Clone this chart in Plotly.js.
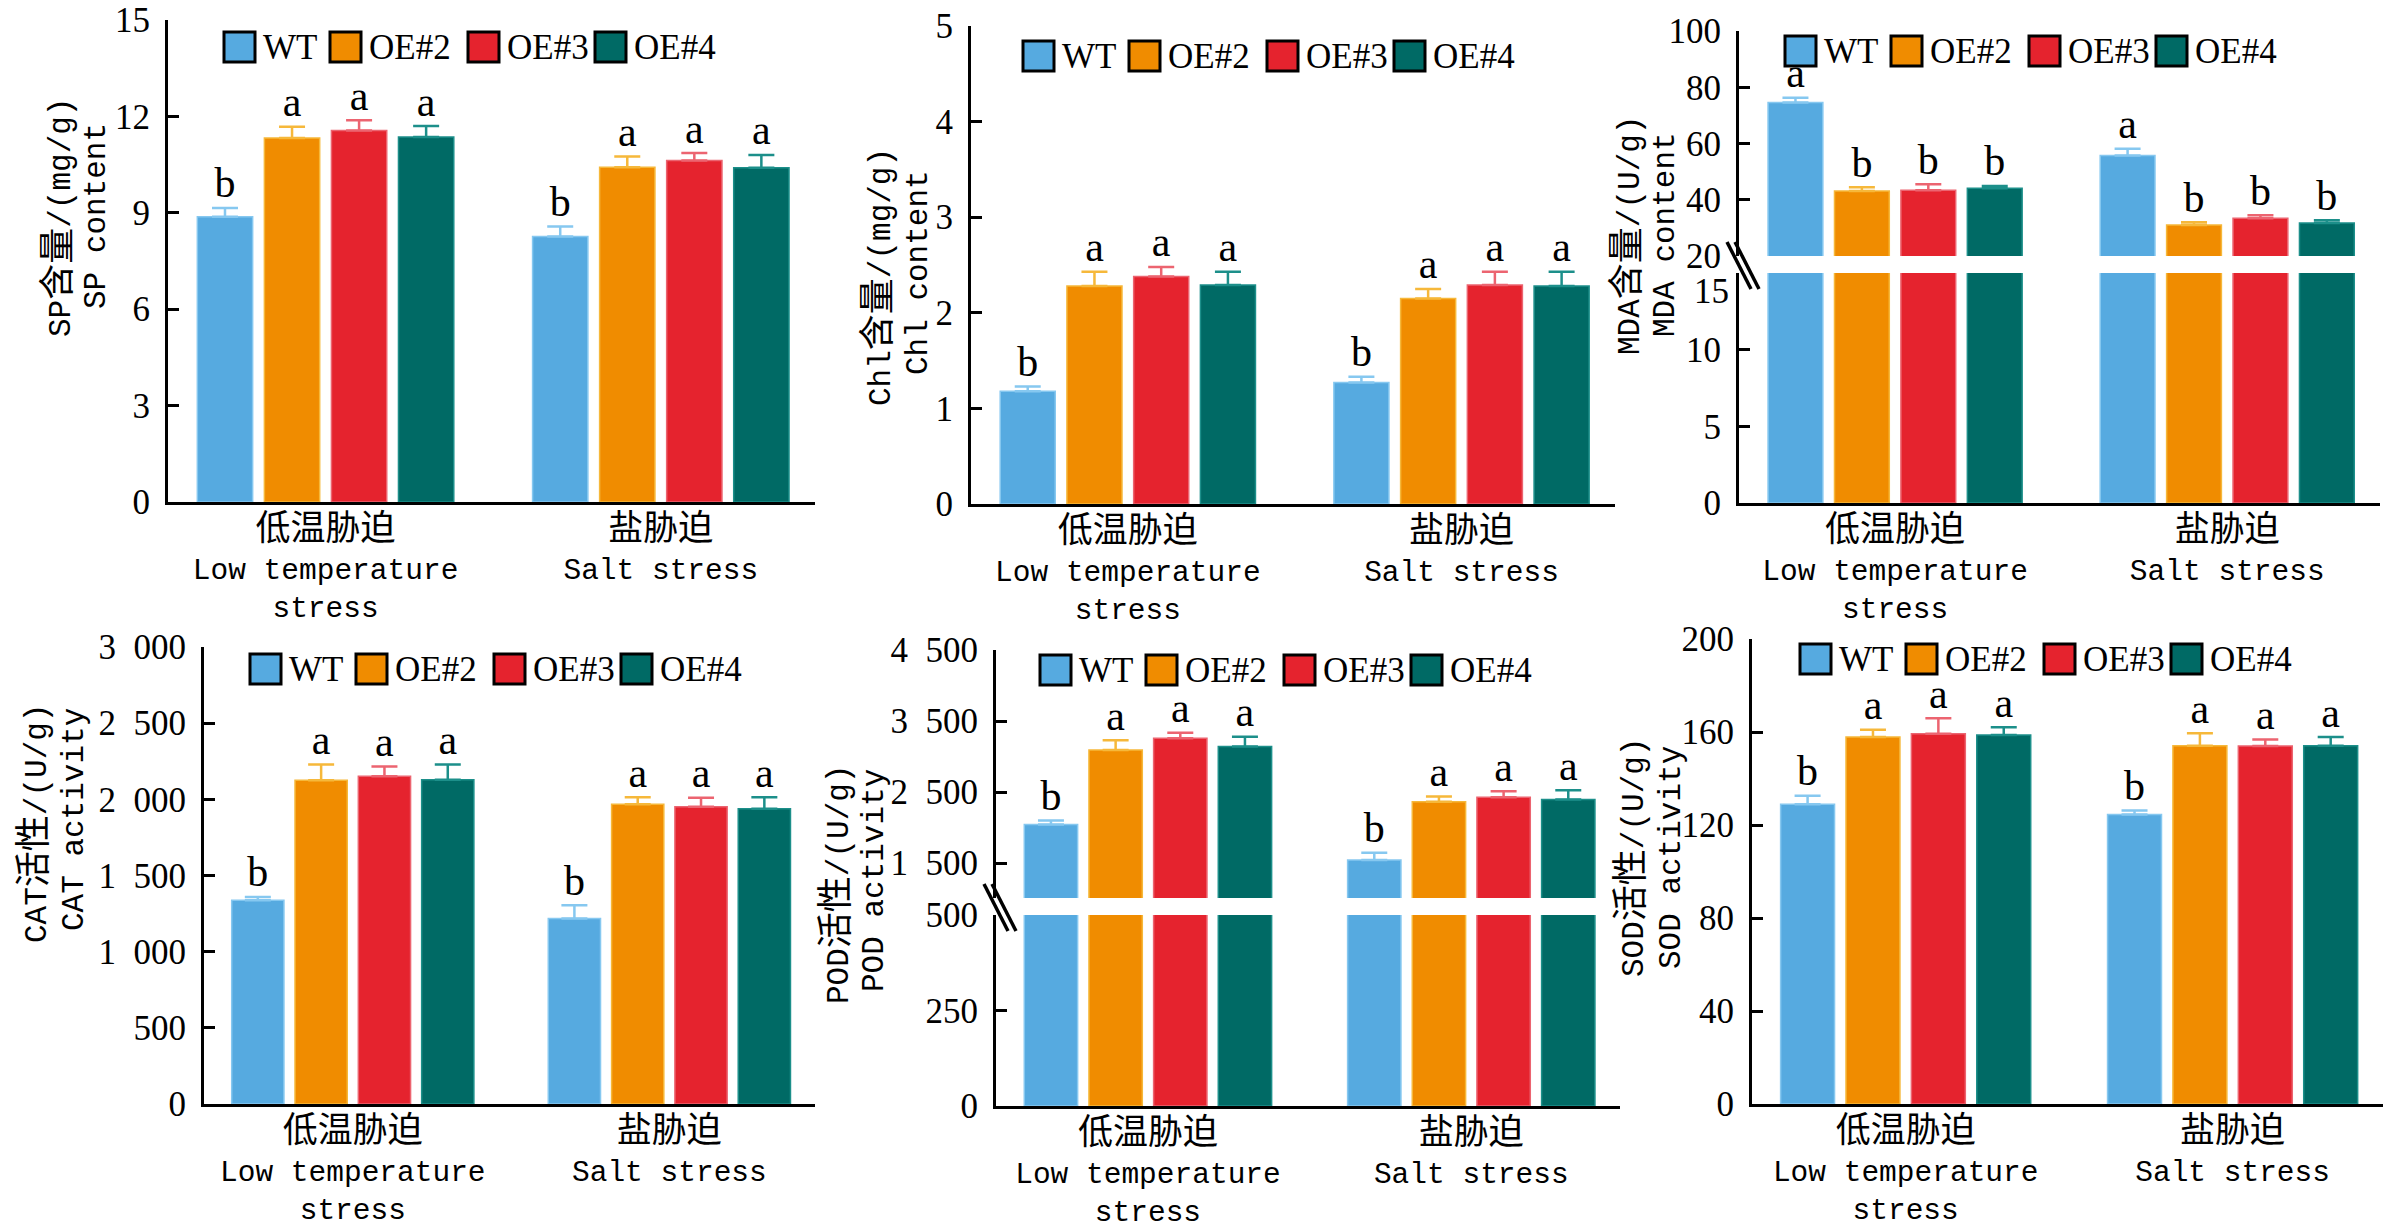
<!DOCTYPE html>
<html>
<head>
<meta charset="utf-8">
<script src="https://cdn.plot.ly/plotly-3.0.1.min.js"></script>
<style>body{margin:0;background:#fff}</style>
</head>
<body>
<div id="chart" style="width:2401px;height:1229px"></div>
<script>
const seriesNames = ["WT", "OE#2", "OE#3", "OE#4"];
const groupsCn = ["低温胁迫", "盐胁迫"];
const groupsEn = ["Low temperature<br>stress", "Salt stress"];

// rows: WT, OE#2, OE#3, OE#4 ; columns: low temperature, salt
const spMean = [[8.88, 8.26], [11.33, 10.42], [11.56, 10.63], [11.36, 10.40]];
const spErr = [[0.27, 0.31], [0.35, 0.33], [0.32, 0.23], [0.34, 0.40]];
const spSig = [["b", "b"], ["a", "a"], ["a", "a"], ["a", "a"]];

const chlMean = [[1.18, 1.27], [2.28, 2.15], [2.38, 2.29], [2.29, 2.28]];
const chlErr = [[0.05, 0.06], [0.15, 0.10], [0.10, 0.14], [0.14, 0.15]];
const chlSig = [["b", "b"], ["a", "a"], ["a", "a"], ["a", "a"]];

const mdaMean = [[74.6, 55.7], [43.1, 31.0], [43.4, 33.4], [44.1, 31.7]];
const mdaErr = [[1.7, 2.4], [1.3, 1.0], [2.1, 1.1], [0.8, 1.0]];
const mdaSig = [["a", "a"], ["b", "b"], ["b", "b"], ["b", "b"]];

const catMean = [[1338, 1218], [2126, 1967], [2151, 1951], [2128, 1938]];
const catErr = [[21, 87], [102, 46], [64, 59], [100, 75]];
const catSig = [["b", "b"], ["a", "a"], ["a", "a"], ["a", "a"]];

const podMean = [[2044, 1544], [3093, 2363], [3258, 2429], [3143, 2396]];
const podErr = [[55, 104], [138, 77], [77, 82], [137, 131]];
const podSig = [["b", "b"], ["a", "a"], ["a", "a"], ["a", "a"]];

const sodMean = [[128.9, 124.5], [157.8, 154.1], [159.3, 154.0], [158.7, 154.1]];
const sodErr = [[3.7, 1.7], [3.2, 5.4], [6.6, 2.8], [3.3, 3.7]];
const sodSig = [["b", "b"], ["a", "a"], ["a", "a"], ["a", "a"]];

// tick labels
const spTicks = [0, 3, 6, 9, 12, 15];
const chlTicks = [0, 1, 2, 3, 4, 5];
const mdaLowTicks = [0, 5, 10, 15];
const mdaHighTicks = [20, 40, 60, 80, 100];
const catTicks = [0, 500, 1000, 1500, 2000, 2500, 3000];
const catLabels = ["0", "500", "1 000", "1 500", "2 000", "2 500", "3 000"];
const podLowTicks = [0, 250, 500];
const podHighTicks = [1500, 2500, 3500, 4500];
const podHighLabels = ["1 500", "2 500", "3 500", "4 500"];
const sodTicks = [0, 40, 80, 120, 160, 200];

const barColors = ["#56aae0", "#f08c00", "#e5232e", "#006a65"];
const errColors = ["#86c8f0", "#f6b83a", "#ec6470", "#1c8f8a"];

const W = 2401, H = 1229;
const serif = "Liberation Serif, Noto Sans CJK SC, serif";
const mono = "Liberation Mono, Noto Sans CJK SC, monospace";
const slot = 0.2, barW = 0.165;
const xRange = [-0.47, 1.46];
const legendOffsets = [0, 106, 244, 371];

const sp = s => s.replace(/ /g, "\u2002");
const cjk = (s, size) => s.replace(/([\u4e00-\u9fff]+)/g, `<span style="font-size:${size}px">$1</span>`);

const panels = [
    {mean: spMean, err: spErr, sig: spSig, ax: 168, xend: 815, legX: 56, legY: 12,
     cn: "SP含量/(mg/g)", en: "SP content", tcn: [59, 218], ten: [97, 216],
     segs: [{top: 20, bot: 502, range: [0, 15], ticks: spTicks, labels: spTicks.map(String)}]},
    {mean: chlMean, err: chlErr, sig: chlSig, ax: 971, xend: 1615, legX: 52, legY: 15,
     cn: "Chl含量/(mg/g)", en: "Chl content", tcn: [879, 277], ten: [918, 273],
     segs: [{top: 26, bot: 504, range: [0, 5], ticks: chlTicks, labels: chlTicks.map(String)}]},
    {mean: mdaMean, err: mdaErr, sig: mdaSig, ax: 1739, xend: 2380, legX: 46, legY: 5,
     cn: "MDA含量/(U/g)", en: "MDA content", tcn: [1629, 236], ten: [1665, 235],
     segs: [{top: 273, bot: 503, range: [0, 15], ticks: mdaLowTicks, labels: mdaLowTicks.map(String), lastShift: 18},
            {top: 31, bot: 256, range: [20, 100], ticks: mdaHighTicks, labels: mdaHighTicks.map(String)}]},
    {mean: catMean, err: catErr, sig: catSig, ax: 204, xend: 815, legX: 46, legY: 7,
     cn: "CAT活性/(U/g)", en: "CAT activity", tcn: [36, 824], ten: [74, 820],
     segs: [{top: 647, bot: 1104, range: [0, 3000], ticks: catTicks, labels: catLabels.map(sp)}]},
    {mean: podMean, err: podErr, sig: podSig, ax: 996, xend: 1620, legX: 44, legY: 5,
     cn: "POD活性/(U/g)", en: "POD activity", tcn: [838, 885], ten: [874, 881],
     segs: [{top: 915, bot: 1106, range: [0, 500], ticks: podLowTicks, labels: podLowTicks.map(String)},
            {top: 650, bot: 898, range: [1010, 4500], ticks: podHighTicks, labels: podHighLabels.map(sp)}]},
    {mean: sodMean, err: sodErr, sig: sodSig, ax: 1752, xend: 2383, legX: 48, legY: 5,
     cn: "SOD活性/(U/g)", en: "SOD activity", tcn: [1633, 858], ten: [1671, 857],
     segs: [{top: 639, bot: 1104, range: [0, 200], ticks: sodTicks, labels: sodTicks.map(String)}]}
];

const traces = [];
const shapes = [];
const annotations = [];
const layout = {
    width: W, height: H,
    margin: {l: 0, r: 0, t: 0, b: 0},
    paper_bgcolor: "#fff", plot_bgcolor: "rgba(0,0,0,0)",
    barmode: "overlay",
    showlegend: false,
    font: {family: serif, color: "#000"}
};

let yCount = 0;
panels.forEach((p, k) => {
    const xn = k === 0 ? "" : String(k + 1);
    const xId = "x" + xn;
    const segIds = p.segs.map(() => { yCount++; return yCount === 1 ? "" : String(yCount); });

    layout["xaxis" + xn] = {
        domain: [p.ax / W, p.xend / W], anchor: "y" + segIds[0], range: xRange,
        tickvals: [0, 1],
        ticktext: groupsCn.map((c, g) => `<span style="font-size:35px">${c}</span><br>${groupsEn[g]}`),
        tickfont: {family: mono, size: 29.5, color: "#000"},
        showline: true, linewidth: 3, linecolor: "#000",
        ticks: "", ticklabelstandoff: 0,
        showgrid: false, zeroline: false, fixedrange: true
    };

    p.segs.forEach((s, j) => {
        const yn = segIds[j];
        const isTop = j === p.segs.length - 1;
        const labels = s.labels.slice();
        if (s.lastShift) {
            // top label of the lower segment sits a little below its tick, under the break
            const last = labels.length - 1;
            annotations.push({xref: "paper", yref: "y" + yn, x: (p.ax - 8) / W, y: s.ticks[last],
                xanchor: "right", yanchor: "middle", yshift: -s.lastShift, text: labels[last],
                showarrow: false, font: {family: serif, size: 35, color: "#000"}});
            labels[last] = "";
        }
        layout["yaxis" + yn] = {
            domain: [1 - s.bot / H, 1 - s.top / H], anchor: xId, range: s.range,
            tickvals: s.ticks, ticktext: labels,
            tickfont: {family: serif, size: 35, color: "#000"},
            showline: true, linewidth: 3, linecolor: "#000",
            ticks: "inside", ticklen: 11, tickwidth: 3, tickcolor: "#000",
            ticklabelstandoff: 8,
            showgrid: false, zeroline: false, fixedrange: true
        };
        seriesNames.forEach((name, i) => {
            const xs = [0, 1].map(g => g + (i - 1.5) * slot);
            traces.push({
                type: "bar", name: name, x: xs, y: p.mean[i], width: barW,
                xaxis: xId, yaxis: "y" + yn,
                marker: {color: barColors[i], line: {color: errColors[i], width: 1.5}},
                error_y: isTop ? {type: "data", symmetric: false, array: p.err[i], arrayminus: [0, 0],
                                  color: errColors[i], thickness: 2.5, width: 13} : {visible: false},
                hoverinfo: "skip"
            });
            if (isTop) {
                traces.push({
                    type: "scatter", mode: "text", x: xs,
                    y: p.mean[i].map((v, g) => v + p.err[i][g]),
                    text: p.sig[i], textposition: "top center",
                    textfont: {family: serif, size: 42, color: "#000"},
                    xaxis: xId, yaxis: "y" + yn, cliponaxis: false, hoverinfo: "skip"
                });
            }
        });
    });

    // axis break marks
    if (p.segs.length > 1) {
        const gTop = p.segs[1].bot, gBot = p.segs[0].top;
        [0, 8].forEach(dx => {
            shapes.push({type: "line", xref: "paper", yref: "paper",
                x0: (p.ax - 12 + dx) / W, y0: 1 - (gTop - 14) / H,
                x1: (p.ax + 12 + dx) / W, y1: 1 - (gBot + 16) / H,
                line: {color: "#000", width: 3.5}});
        });
    }

    // legend
    const top = p.segs[p.segs.length - 1].top;
    seriesNames.forEach((name, i) => {
        const bx = p.ax + p.legX + legendOffsets[i];
        const by = top + p.legY;
        shapes.push({type: "rect", xref: "paper", yref: "paper",
            x0: bx / W, x1: (bx + 31) / W, y0: 1 - (by + 30) / H, y1: 1 - by / H,
            fillcolor: barColors[i], line: {color: "#000", width: 3}});
        annotations.push({xref: "paper", yref: "paper", x: (bx + 37) / W, y: 1 - (by + 15) / H,
            xanchor: "left", yanchor: "middle", text: name, showarrow: false,
            font: {family: serif, size: 35, color: "#000"}});
    });

    // y titles
    [[p.cn, p.tcn], [p.en, p.ten]].forEach(([txt, pos]) => {
        annotations.push({xref: "paper", yref: "paper", x: pos[0] / W, y: 1 - pos[1] / H,
            xanchor: "center", yanchor: "middle", text: cjk(txt, 36), textangle: -90, showarrow: false,
            font: {family: mono, size: 31, color: "#000"}});
    });
});

layout.shapes = shapes;
layout.annotations = annotations;

Plotly.newPlot("chart", traces, layout, {displayModeBar: false, staticPlot: true});
</script>
</body>
</html>
